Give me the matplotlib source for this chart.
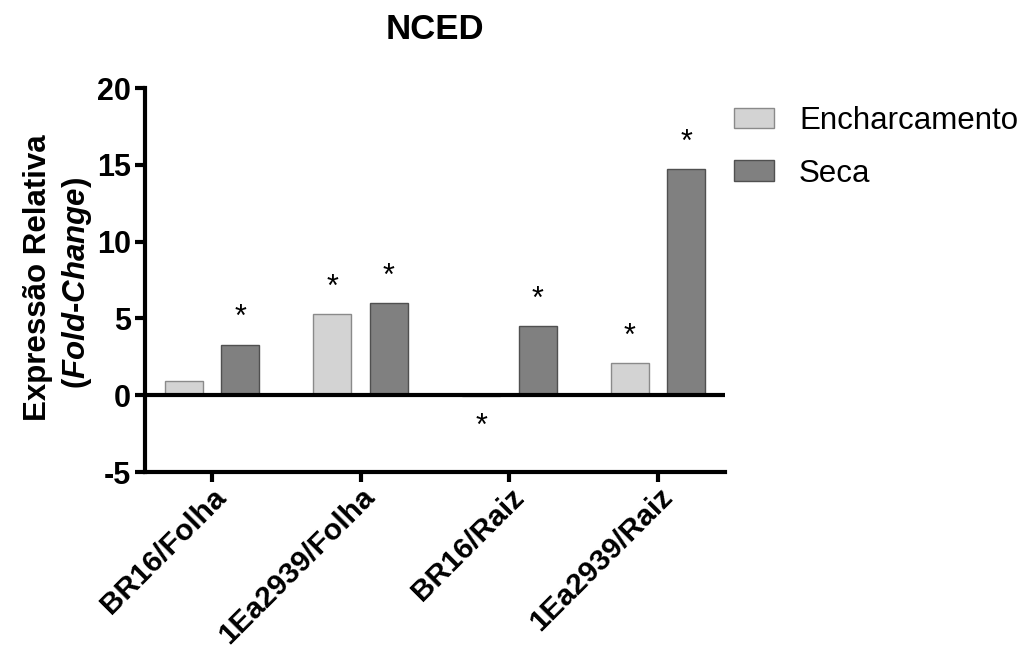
import matplotlib
matplotlib.use("Agg")
from matplotlib import pyplot as plt
import numpy as np

plt.rcParams['font.family'] = ['Liberation Sans', 'DejaVu Sans']
plt.rcParams['mathtext.fontset'] = 'custom'
plt.rcParams['mathtext.it'] = 'Liberation Sans:italic:bold'
plt.rcParams['mathtext.rm'] = 'Liberation Sans:bold'
plt.rcParams['axes.unicode_minus'] = False

categories = ["BR16/Folha", "1Ea2939/Folha", "BR16/Raiz", "1Ea2939/Raiz"]
encharcamento = [0.9, 5.3, -0.05, 2.1]
seca = [3.3, 6.0, 4.5, 14.7]
sig_ench = [False, True, True, True]
sig_seca = [True, True, True, True]
yticks = [-5, 0, 5, 10, 15, 20]

fig = plt.figure(figsize=(10.24, 6.5), dpi=100)
ax = fig.add_axes([145 / 1024, 1 - 472 / 650, 580 / 1024, 384 / 650])

x = np.arange(len(categories))
w = 0.255
off = 0.19
ax.bar(x - off, encharcamento, w, color='#d3d3d3', edgecolor='#8a8a8a', linewidth=1, label='Encharcamento', zorder=2)
ax.bar(x + off, seca, w, color='#808080', edgecolor='#505050', linewidth=1, label='Seca', zorder=2)
ax.axhline(0, color='black', lw=3, zorder=3)

# asterisks above / below significant bars
for xs, vals, sig in [(x - off, encharcamento, sig_ench), (x + off, seca, sig_seca)]:
    for xi, v, s in zip(xs, vals, sig):
        if not s:
            continue
        yy = v + 1.7 if v > 0 else v - 2.0
        ax.text(xi, yy, "*", ha='center', va='center', fontsize=22, zorder=4)

ax.set_xlim(-0.45, 3.45)
ax.set_ylim(-5, 20)
ax.set_yticks(yticks)
ax.set_xticks(x)
ax.set_xticklabels(categories, rotation=45, ha='right', va='top', rotation_mode='anchor',
                   fontsize=21.5, fontweight='bold')
for lab in ax.get_yticklabels():
    lab.set_fontsize(22)
    lab.set_fontweight('bold')

for side in ['top', 'right']:
    ax.spines[side].set_visible(False)
for side in ['left', 'bottom']:
    ax.spines[side].set_linewidth(3)
ax.tick_params(axis='both', length=7, width=3, direction='out', pad=3)
ax.tick_params(axis='x', pad=1)

ax.set_title("NCED", fontsize=25, fontweight='bold', pad=35)

fig.text(38 / 1024, 1 - 278 / 650, "Expressão Relativa", rotation=90, ha='center', va='center',
         fontsize=22.5, fontweight='bold')
fig.text(77 / 1024, 1 - 283 / 650, r"($\mathit{Fold}$-$\mathit{Change}$)", rotation=90,
         ha='center', va='center', fontsize=22.5, fontweight='bold')

ax.legend(loc='upper left', bbox_to_anchor=(734 / 1024, 1 - 106 / 650), bbox_transform=fig.transFigure,
          frameon=False, fontsize=22.5, handlelength=1.28, handleheight=0.65, handletextpad=0.8,
          labelspacing=0.72, borderpad=0, borderaxespad=0)

fig.savefig("out.png", dpi=100)
